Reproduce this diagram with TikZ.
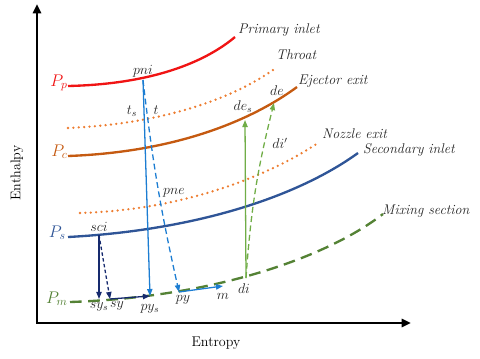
\documentclass[tikz,border=0pt]{standalone}
\usepackage{amsmath}
\usepackage{tikz}
\usetikzlibrary{arrows.meta, positioning}

\definecolor{ppred}{RGB}{240,20,20}
\definecolor{pcorange}{RGB}{197,90,17}
\definecolor{dotorange}{RGB}{237,125,49}
\definecolor{psblue}{RGB}{47,85,151}
\definecolor{pmgreen}{RGB}{84,130,53}
\definecolor{priblue}{RGB}{28,125,210}
\definecolor{secnavy}{RGB}{22,42,110}
\definecolor{mixgreen}{RGB}{112,173,71}

\begin{document}
\begin{tikzpicture}[x=0.03cm, y=-0.03cm,
    isobar/.style={line width=2pt},
    dotline/.style={line width=2.2pt, dotorange, dash pattern=on 0pt off 4.6pt, line cap=round},
    curvename/.style={anchor=west, font=\fontsize{12}{14}\selectfont\itshape, text=black!85, inner sep=0pt},
    plabel/.style={anchor=base east, font=\Large, inner sep=1pt},
    ptlabel/.style={font=\fontsize{11.5}{13}\selectfont, text=black!85, inner sep=0pt},
    pri/.style={priblue, line width=1.1pt, -{Triangle[length=6pt,width=4.5pt]}},
    sec/.style={secnavy, line width=1.1pt, -{Triangle[length=6pt,width=4.5pt]}},
    mix/.style={mixgreen, line width=1.1pt, -{Triangle[length=6pt,width=4.5pt]}},
    axis/.style={line width=2pt, {Triangle[length=8pt,width=7pt]}-{Triangle[length=8pt,width=7pt]}}
]
\useasboundingbox (0,0) rectangle (480,358);

% axes
\coordinate (o) at (37,323);
\coordinate (ytop) at (37,4);
\coordinate (xend) at (411,323);
\draw[axis] (ytop) -- (o) -- (xend);
\node[rotate=90, font=\fontsize{12}{14}\selectfont] (hlab) at (17,173) {Enthalpy};
\node[font=\fontsize{12}{14}\selectfont] (slab) at (216,343) {Entropy};

% isobars and section lines
\draw[isobar, ppred] (68,86) .. controls (160,84) and (210,58) .. (235,37);
\draw[dotline] (68,128) .. controls (160,124) and (230,100) .. (273,70);
\draw[isobar, pcorange] (68,156) .. controls (180,152) and (255,118) .. (297,87);
\draw[dotline] (80,213) .. controls (185,210) and (270,175) .. (318,143);
\draw[isobar, psblue] (68,237) .. controls (200,230) and (300,195) .. (358,153);
\draw[isobar, pmgreen, dash pattern=on 10pt off 5.5pt] (70,302) .. controls (220,297) and (330,255) .. (383,214);

\node[plabel, text=ppred] (lpp) at (69,86) {$P_p$};
\node[plabel, text=pcorange] (lpc) at (69,156) {$P_c$};
\node[plabel, text=psblue] (lps) at (67,237) {$P_s$};
\node[plabel, text=pmgreen] (lpm) at (69,303) {$P_m$};

\foreach \txt/\px/\py [count=\i] in {Primary inlet/238/30, Throat/276/55, Ejector exit/298/81,
    Nozzle exit/322/134, Secondary inlet/363/150, Mixing section/382/211}
  \node[curvename] (cname\i) at (\px,\py) {\txt};

% state points
\coordinate (pni) at (143,80);
\coordinate (pys) at (150,296);
\coordinate (py) at (179,292);
\coordinate (m) at (223,286);
\coordinate (sci) at (99,235);
\coordinate (sys) at (99,299);
\coordinate (sy) at (110,299);
\coordinate (di) at (246,278);
\coordinate (des) at (245,120);
\coordinate (de) at (274,103);

\foreach \id/\txt/\px/\py in {pni/pni/143/71, ts/t_s/132/111, t/t/156/110, des/de_s/243/107,
    de/de/277/91, dip/di'/280/143, pne/pne/174/193, sci/sci/99/227, sys/sy_s/99/307,
    sy/sy/117/306, pys/py_s/150/309, py/py/183/300, m/m/223/296, di/di/244/289}
  \node[ptlabel] (lbl\id) at (\px,\py) {$\txt$};

% processes
\draw[pri] (pni) -- (pys);
\draw[pri, dash pattern=on 5pt off 3pt] (pni) to[bend right=3] (py);
\draw[pri] (py) -- (m);
\draw[sec] (sci) -- (sys);
\draw[sec, dash pattern=on 3pt off 2pt] (sci) -- (sy);
\draw[sec] (sy) -- (pys);
\draw[mix] (di) -- (des);
\draw[mix, dash pattern=on 5pt off 3pt] (di) to[bend left=5] (de);
\end{tikzpicture}
\end{document}
